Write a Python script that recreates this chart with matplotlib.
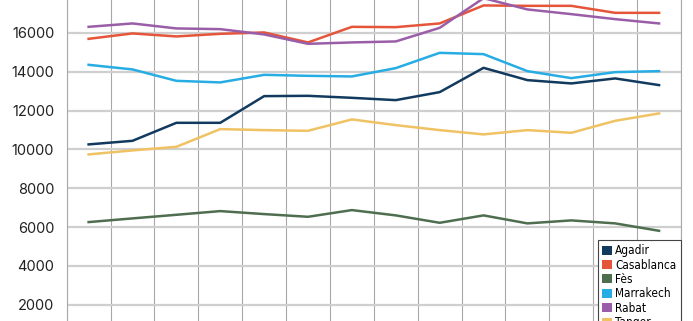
import numpy as np
import matplotlib.pyplot as plt
from matplotlib.patches import Patch

# x categories (labels fall outside the cropped view)
periods = list(range(14))

agadir = [10255, 10440, 11367, 11367, 12741, 12757, 12654, 12535, 12947, 14198, 13565, 13395, 13653, 13308]
casablanca = [15691, 15969, 15815, 15949, 16020, 15506, 16309, 16293, 16484, 17411, 17390, 17390, 17030, 17030]
fes = [6255, 6445, 6631, 6821, 6667, 6528, 6873, 6600, 6219, 6600, 6188, 6342, 6188, 5807]
marrakech = [14353, 14116, 13529, 13447, 13838, 13786, 13755, 14183, 14970, 14903, 14028, 13668, 13977, 14028]
rabat = [16309, 16484, 16227, 16190, 15918, 15434, 15506, 15557, 16257, 17786, 17205, 16963, 16705, 16484]
tanger = [9740, 9946, 10131, 11043, 10991, 10955, 11542, 11248, 10991, 10770, 10991, 10852, 11470, 11851]

names = ['Agadir', 'Casablanca', 'Fès', 'Marrakech', 'Rabat', 'Tanger']
series = [agadir, casablanca, fes, marrakech, rabat, tanger]
colors = ['#123a5e', '#e5553a', '#4f6e50', '#27ade3', '#9a5ea8', '#efc263']
yticks = [2000, 4000, 6000, 8000, 10000, 12000, 14000, 16000]

fig = plt.figure(figsize=(6.93, 3.21), dpi=100)
# axes extends past the top and bottom of the picture (cropped chart)
ax = fig.add_axes([0.0962, -0.0703, 0.8865, 1.089])

x = np.arange(len(periods))
for vals, c in zip(series, colors):
    ax.plot(x, vals, color=c, lw=1.8, zorder=3)

ax.set_xlim(-0.5, len(periods) - 0.5)
ax.set_ylim(0, 18000)
ax.set_yticks(yticks)
ax.set_yticklabels([str(v) for v in yticks])
ax.set_xticks(np.arange(-0.5, len(periods), 1.0))
ax.set_xticklabels([])

ax.grid(axis='y', color='#cfcfcf', lw=1.6, zorder=1)
ax.grid(axis='x', color='#a8a8a8', lw=0.8, zorder=1)
for s in ['top', 'bottom']:
    ax.spines[s].set_visible(False)
for s in ['left', 'right']:
    ax.spines[s].set_color('#a8a8a8')
    ax.spines[s].set_linewidth(0.8)
ax.tick_params(axis='both', length=0)
ax.tick_params(axis='y', pad=9, labelsize=10.5, labelcolor='#222222')
for lab in ax.get_yticklabels():
    lab.set_fontfamily(['Inter', 'DejaVu Sans'])

handles = [Patch(facecolor=c, edgecolor='none') for c in colors]
leg = fig.legend(handles, names, loc='upper left', bbox_to_anchor=(0.863, 0.2523),
                 bbox_transform=fig.transFigure, borderaxespad=0, fancybox=False,
                 edgecolor='#444444', framealpha=1, handlelength=0.8, handleheight=0.8,
                 handletextpad=0.3, labelspacing=0.12, borderpad=0.35,
                 prop={'family': 'DejaVu Sans', 'stretch': 'condensed', 'size': 8.5})
leg.get_frame().set_linewidth(0.8)

fig.savefig('out.png', dpi=100)
